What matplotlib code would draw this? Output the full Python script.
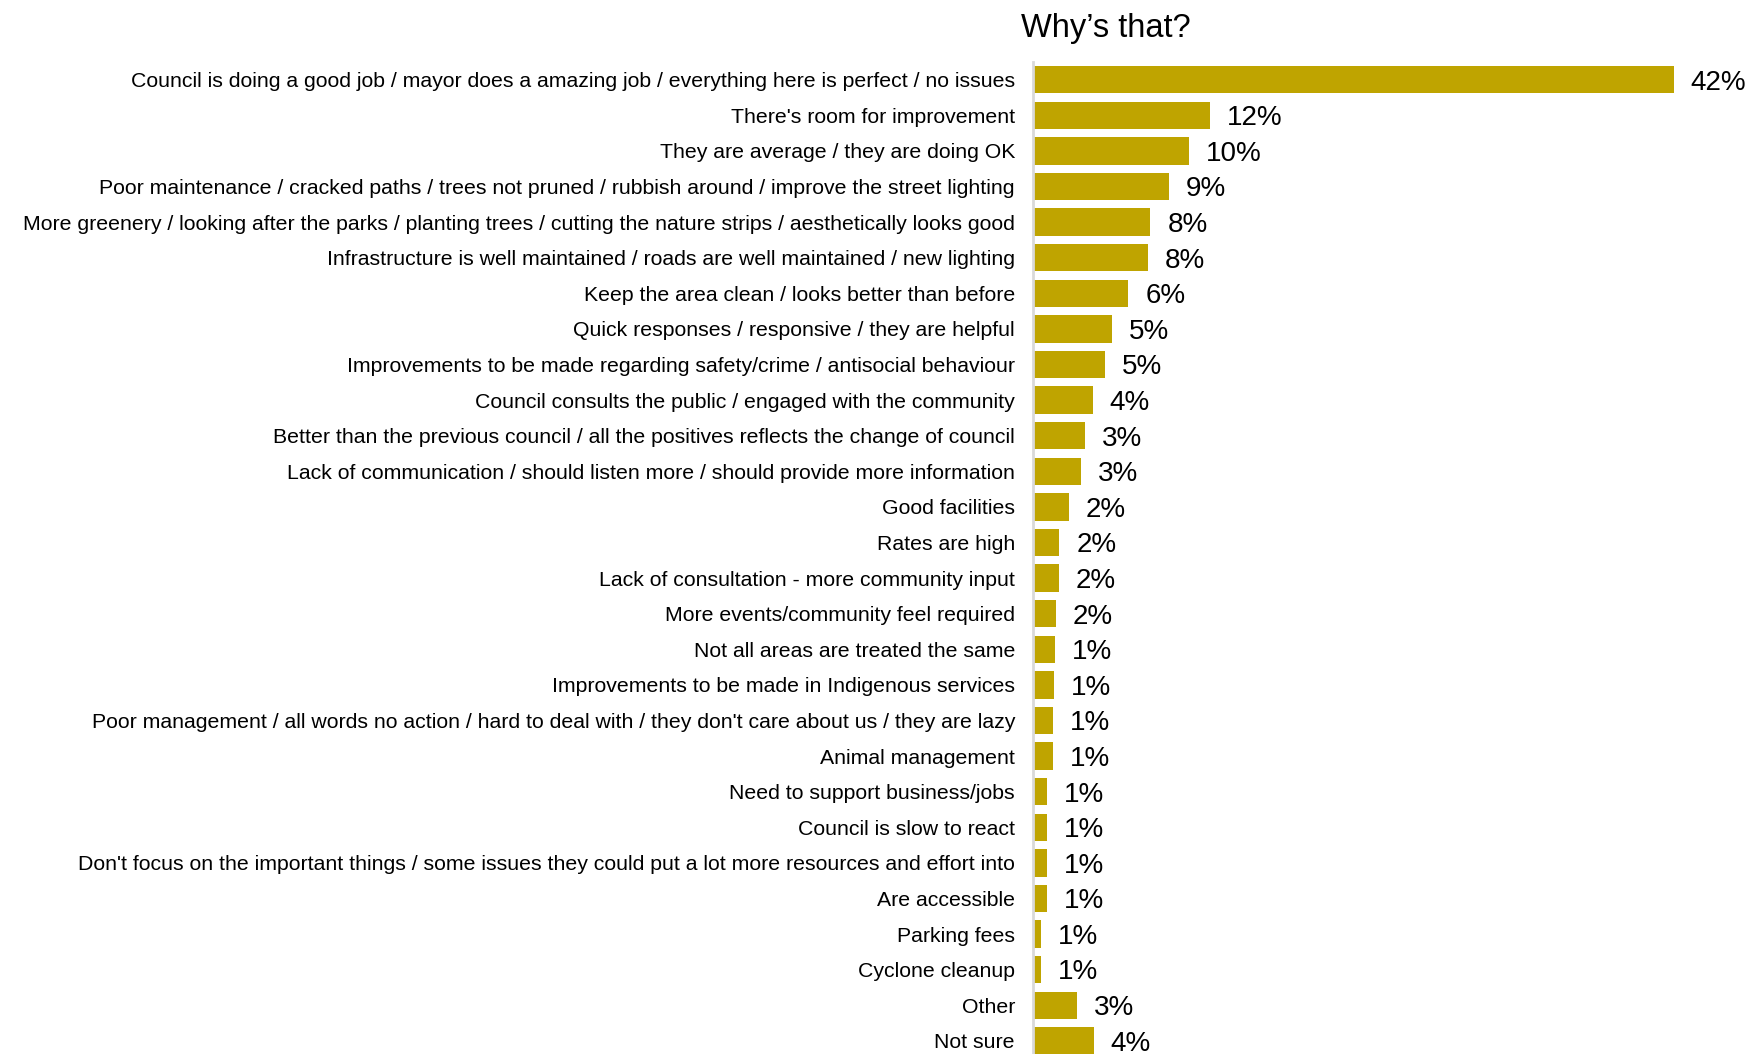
import matplotlib
matplotlib.use("Agg")
import matplotlib.pyplot as plt

plt.rcParams["font.family"] = ["Liberation Sans", "DejaVu Sans"]

categories = [
    "Council is doing a good job / mayor does a amazing job / everything here is perfect / no issues",
    "There's room for improvement",
    "They are average / they are doing OK",
    "Poor maintenance / cracked paths / trees not pruned / rubbish around / improve the street lighting",
    "More greenery / looking after the parks / planting trees / cutting the nature strips / aesthetically looks good",
    "Infrastructure is well maintained / roads are well maintained / new lighting",
    "Keep the area clean / looks better than before",
    "Quick responses / responsive / they are helpful",
    "Improvements to be made regarding safety/crime / antisocial behaviour",
    "Council consults the public / engaged with the community",
    "Better than the previous council / all the positives reflects the change of council",
    "Lack of communication / should listen more / should provide more information",
    "Good facilities",
    "Rates are high",
    "Lack of consultation - more community input",
    "More events/community feel required",
    "Not all areas are treated the same",
    "Improvements to be made in Indigenous services",
    "Poor management / all words no action / hard to deal with / they don't care about us / they are lazy",
    "Animal management",
    "Need to support business/jobs",
    "Council is slow to react",
    "Don't focus on the important things / some issues they could put a lot more resources and effort into",
    "Are accessible",
    "Parking fees",
    "Cyclone cleanup",
    "Other",
    "Not sure",
]
values = [42.0, 11.6, 10.2, 8.9, 7.7, 7.52, 6.25, 5.16, 4.7, 3.93, 3.39, 3.15,
          2.34, 1.73, 1.68, 1.52, 1.42, 1.36, 1.29, 1.29, 0.94, 0.9, 0.9, 0.9,
          0.55, 0.55, 2.86, 4.0]

BAR = "#BFA400"

fig = plt.figure(figsize=(17.49, 10.54), dpi=100)
ax = fig.add_axes([0.5906, 0.0, 0.3927, 0.9412])

ypos = range(len(categories))
ax.barh(ypos, values, height=0.77, color=BAR, edgecolor="none")
for y, v in zip(ypos, values):
    ax.text(v + 1.1, y + 0.08, f"{v:.0f}%", va="center", ha="left", fontsize=20)

ax.set_ylim(27.37, -0.5)
ax.set_xlim(0, 45)
ax.set_yticks(list(ypos))
ax.set_yticklabels(categories, fontsize=15.3)
ax.tick_params(axis="y", length=0, pad=13)
ax.set_xticks([])
for side in ("top", "right", "bottom"):
    ax.spines[side].set_visible(False)
ax.spines["left"].set_color("#d9d9d9")
ax.spines["left"].set_linewidth(2)

fig.text(0.6324, 0.973, "Why\u2019s that?", ha="center", va="center", fontsize=23.5)

fig.savefig("out.png", dpi=100)
